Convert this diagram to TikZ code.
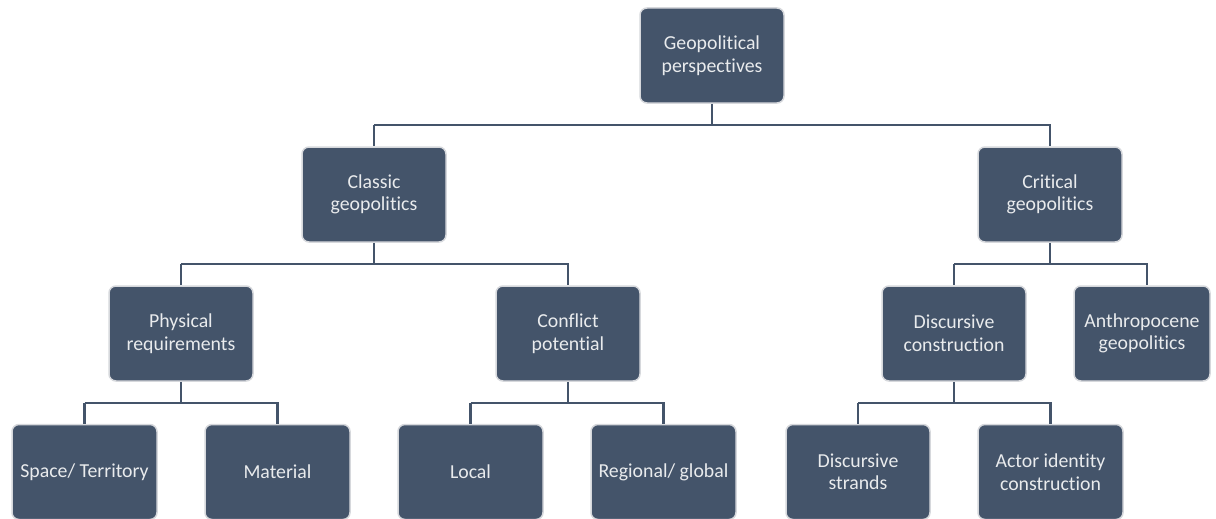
\documentclass[tikz,border=0pt]{standalone}
\usepackage{fontspec}
\setmainfont{Carlito}[Ligatures={NoCommon,NoRare,NoDiscretionary}]
\definecolor{slate}{HTML}{44546A}
\definecolor{rim}{HTML}{D6D8DC}
\begin{document}
\begin{tikzpicture}[x=1pt,y=-1pt,
  box/.style={draw=rim, line width=1.5pt, fill=slate, rounded corners=7pt,
    minimum width=#1, minimum height=95pt, text=white!88!slate, align=center,
    font=\fontsize{19.8}{22.5}\selectfont, inner sep=2pt},
  box/.default=144pt,
  link/.style={draw=slate, line width=2.8pt}]
\useasboundingbox (0,0) rectangle (1216,519);
\node[box] (root) at (712,55.5) {Geopolitical\\perspectives};
\node[box] (classic) at (374,194.5) {Classic\\geopolitics};
\node[box] (critical) at (1050,194.5) {Critical\\geopolitics};
\node[box] (phys) at (181,333.5) {Physical\\requirements};
\node[box] (conf) at (568,333.5) {Conflict\\potential};
\node[box] (disc) at (954,333.5) {Discursive\\construction};
\node[box=136pt] (anth) at (1142,333.5) {Anthropocene\\geopolitics};
\node[box=145pt] (space) at (84.5,472) {Space/ Territory};
\node[box=145pt] (mat) at (277.5,472) {Material};
\node[box=145pt] (local) at (470.5,472) {Local};
\node[box=145pt] (reg) at (663.5,472) {Regional/ global};
\node[box] (strand) at (858,472) {Discursive\\strands};
\node[box=145pt] (actor) at (1050.5,472) {Actor identity\\construction};
\coordinate (r1) at (712,125);
\coordinate (c1) at (374,264);
\coordinate (k1) at (1050,264);
\coordinate (p1) at (181,403);
\coordinate (f1) at (568,403);
\coordinate (d1) at (954,403);
\path[link] (root.south) -- (r1) (classic.north|-r1) -| (classic.north) (r1) -| (critical.north)
  (classic.north|-r1) -- (r1);
\path[link] (classic.south) -- (c1) (phys.north|-c1) -| (phys.north) (c1) -| (conf.north)
  (phys.north|-c1) -- (c1);
\path[link] (critical.south) -- (k1) (disc.north|-k1) -| (disc.north) (k1) -| ([xshift=5pt]anth.north)
  (disc.north|-k1) -- (k1);
\path[link] (phys.south) -- (p1) (space.north|-p1) -| (space.north) (p1) -| (mat.north)
  (space.north|-p1) -- (p1);
\path[link] (conf.south) -- (f1) (local.north|-f1) -| (local.north) (f1) -| (reg.north)
  (local.north|-f1) -- (f1);
\path[link] (disc.south) -- (d1) (strand.north|-d1) -| (strand.north) (d1) -| (actor.north)
  (strand.north|-d1) -- (d1);
\end{tikzpicture}
\end{document}
